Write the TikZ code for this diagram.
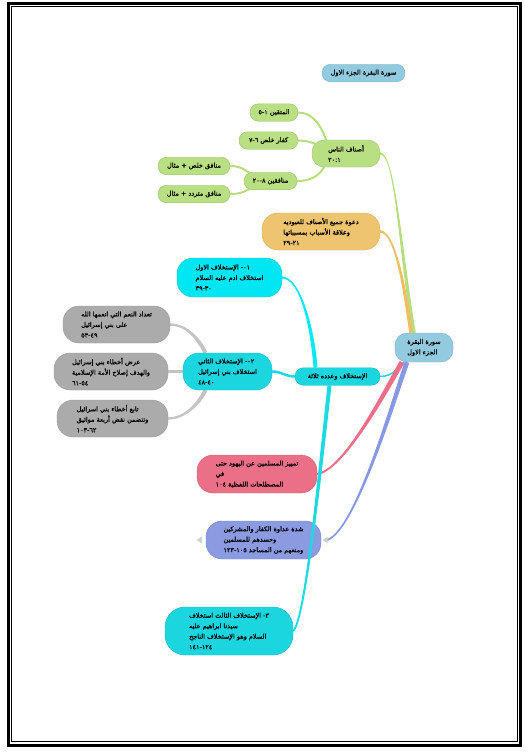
\documentclass[tikz,border=0pt]{standalone}
\usepackage{fontspec}
\newfontfamily\arabicfont[Script=Arabic,FakeBold=1]{DejaVu Sans}
\usetikzlibrary{calc}
\TeXXeTstate=1
\definecolor{lblue}{HTML}{92CBDF}\definecolor{lblueD}{HTML}{7FB0C2}
\definecolor{grn}{HTML}{B9DF83}\definecolor{grnD}{HTML}{9EBF74}\definecolor{grnL}{HTML}{B7DE7E}
\definecolor{org}{HTML}{EFC46E}\definecolor{orgD}{HTML}{D9AF60}\definecolor{orgL}{HTML}{F0BD62}
\definecolor{cyA}{HTML}{00E6F2}\definecolor{cyAD}{HTML}{10C5D0}\definecolor{cyAL}{HTML}{00EAF5}
\definecolor{cyB}{HTML}{1CD6DF}\definecolor{cyBD}{HTML}{18B9C2}\definecolor{cyBL}{HTML}{1CD9E2}
\definecolor{gry}{HTML}{ABABAB}\definecolor{gryD}{HTML}{9A9A9A}\definecolor{gryL}{HTML}{C4C4C4}
\definecolor{pnk}{HTML}{EB6F87}\definecolor{pnkD}{HTML}{D06078}\definecolor{pnkL}{HTML}{EC6F89}
\definecolor{blu}{HTML}{8A9BE1}\definecolor{bluD}{HTML}{7886C6}\definecolor{bluL}{HTML}{8799E2}
\definecolor{markc}{HTML}{CFCFCF}
\newcommand\dash{\hbox{-}}
\newcommand\RT[1]{\beginR#1\endR}
\newcommand\LT[1]{\beginL#1\endL}
% tapered branch: start, control 1, control 2, end, half width at start, half width at end, colour
\newcommand\taper[7]{%
  \path ($(#1)!#5!90:(#2)$) coordinate (ta) ($(#1)!#5!-90:(#2)$) coordinate (tb)
        ($(#4)!#6!-90:(#3)$) coordinate (tc) ($(#4)!#6!90:(#3)$) coordinate (td);
  \fill[#7] (ta) .. controls ($(#2)+(ta)-(#1)$) and ($(#3)+(tc)-(#4)$) .. (tc)
     -- (td) .. controls ($(#3)+(td)-(#4)$) and ($(#2)+(tb)-(#1)$) .. (tb) -- cycle;}
\pgfdeclarelayer{bg}
\pgfsetlayers{bg,main}
\begin{document}
\begin{tikzpicture}[x=1pt,y=-1pt,
  box/.style={rectangle, line width=0.4pt, inner sep=0pt, text=black,
    font=\arabicfont\fontsize{6.5}{10.5}\selectfont},
  one/.style={box, align=center, minimum height=17.5, rounded corners=8.5},
  multi/.style={box, align=left},
  conn/.style={line width=#1, line cap=round},
]
\useasboundingbox (0,0) rectangle (525,753);
\draw[line width=2.7] (8.7,3.7) rectangle (520.3,745.2);
\draw[line width=0.9] (11.5,6.2) rectangle (517.2,741.8);

% nodes
\node[one, fill=lblue, draw=lblueD, minimum width=83] (title) at (363.5,73) {\RT{سورة البقرة الجزء الاول}};
\node[multi, fill=lblue, draw=lblueD, minimum width=58, minimum height=29, rounded corners=12] (C) at (424,347.5) {\RT{سورة البقرة}\\\RT{الجزء الاول}};
\node[multi, fill=grn, draw=grnD, minimum width=68, minimum height=27, rounded corners=12] (A) at (346,153.5) {\RT{أصناف الناس}\\\LT{٢٠\hbox{:}١}};
\node[one, fill=grn, draw=grnD, minimum width=48] (m1) at (274,112.5) {\RT{المتقين \LT{٥\dash١}}};
\node[one, fill=grn, draw=grnD, minimum width=59] (m2) at (268.5,140.5) {\RT{كفار خلص \LT{٧\dash٦}}};
\node[one, fill=grn, draw=grnD, minimum width=53] (m3) at (270.5,181) {\RT{منافقين \LT{٢٠\dash٨}}};
\node[one, fill=grn, draw=grnD, minimum width=72] (m4) at (194,166) {\RT{منافق خلص + مثال}};
\node[one, fill=grn, draw=grnD, minimum width=72] (m5) at (194,194) {\RT{منافق متردد + مثال}};
\node[multi, fill=org, draw=orgD, minimum width=118, minimum height=37, rounded corners=16] (O) at (321,231.5) {\RT{دعوة جميع الأصناف للعبوديه}\\\RT{وعلاقة الأسباب بمسبباتها}\\\LT{٢٩\dash٢١}};
\node[multi, fill=cyA, draw=cyAD, minimum width=105, minimum height=39, rounded corners=16] (K1) at (229.5,277.5) {\RT{\LT{٠١}\dash{} الإستخلاف الاول}\\\RT{استخلاف ادم عليه السلام}\\\LT{٣٩\dash٣٠}};
\node[multi, fill=cyB, draw=cyBD, minimum width=89, minimum height=37, rounded corners=16] (K2) at (227.5,371.5) {\RT{\LT{٠٢}\dash{} الإستخلاف الثاني}\\\RT{استخلاف بني إسرائيل}\\\LT{٤٨\dash٤٠}};
\node[multi, fill=gry, draw=gryD, minimum width=107, minimum height=37, rounded corners=16] (G1) at (116.5,324.5) {\RT{تعداد النعم التي انعمها الله}\\\RT{على بني إسرائيل}\\\LT{٥٣\dash٤٩}};
\node[multi, fill=gry, draw=gryD, minimum width=114, minimum height=37, rounded corners=16] (G2) at (111,371.5) {\RT{عرض أخطاء بني إسرائيل}\\\RT{والهدف إصلاح الأمة الإسلامية}\\\LT{٦١\dash٥٤}};
\node[multi, fill=gry, draw=gryD, minimum width=111, minimum height=37, rounded corners=16] (G3) at (112.5,418.5) {\RT{تابع أخطاء بني اسرائيل}\\\RT{وتتضمن نقض أربعة مواثيق}\\\LT{١٠٣\dash٦٢}};
\node[one, fill=cyB, draw=cyBD, minimum width=85] (S) at (337.5,376.5) {\RT{الإستخلاف وعدده ثلاثة}};
\node[multi, fill=pnk, draw=pnkD, minimum width=120, minimum height=38, rounded corners=16] (P) at (257,474) {\RT{تمييز المسلمين عن اليهود حتى}\\\RT{في}\\\RT{المصطلحات اللفظية ١٠٤}};
\node[multi, fill=blu, draw=bluD, minimum width=115, minimum height=38, rounded corners=16] (B) at (263.5,540) {\RT{شدة عداوة الكفار والمشركين}\\\RT{وحسدهم للمسلمين}\\\RT{ومنعهم من المساجد \LT{١٢٣\dash١٠٥}}};
\node[multi, fill=cyB, draw=cyBD, minimum width=128, minimum height=48, rounded corners=20] (K3) at (229,631) {\RT{٣\dash{} الإستخلاف الثالث استخلاف}\\\RT{سيدنا ابراهيم عليه}\\\RT{السلام وهو الإستخلاف الناجح}\\\LT{١٤١\dash١٢٤}};

% collapse markers of the blue node
\fill[markc] ($(B.west)+(-9,0)$) -- ++(5,-3.5) -- ++(0,7) -- cycle;
\fill[markc] ($(B.east)+(1.5,0)$) -- ++(5,-3.5) -- ++(0,7) -- cycle;

% branch end and control points
\path (A.east) coordinate (sG) ++(15,0) coordinate (aG);
\path ($(C.north)+(-10,0)$) coordinate (eG) ++(-14,-83) coordinate (bG);
\path (O.east) coordinate (sO) ++(13,0) coordinate (aO);
\path ($(C.north)+(-13,0)$) coordinate (eO) ++(-8,-58) coordinate (bO);
\path ($(C.south)+(-22,0)$) coordinate (sP) ++(-12,20) coordinate (aP);
\path (P.east) coordinate (eP) ++(28,-4) coordinate (bP);
\path ($(C.south)+(-17,0)$) coordinate (sB) ++(-12,33) coordinate (aB);
\path ($(B.east)+(6,0)$) coordinate (eB) ++(29,-10) coordinate (bB);
\path ($(S.north)+(-22,0)$) coordinate (sK1) ++(-3,-40) coordinate (aK1);
\path (K1.east) coordinate (eK1) ++(18,0) coordinate (bK1);
\path ($(S.south)+(-8,0)$) coordinate (sK3) ++(-9.5,85) coordinate (aK3);
\path (K3.east) coordinate (eK3) ++(12,-11) coordinate (bK3);
\path ($(K2.north)+(-22,0)$) coordinate (sG1) ++(-8,-16) coordinate (aG1);
\path (G1.east) coordinate (eG1) ++(15,0) coordinate (bG1);
\path ($(K2.south)+(-22,0)$) coordinate (sG3) ++(-8,16) coordinate (aG3);
\path (G3.east) coordinate (eG3) ++(15,0) coordinate (bG3);

% connectors behind the nodes
\begin{pgfonlayer}{bg}
\taper{sG}{aG}{bG}{eG}{1.1pt}{1.8pt}{grnL}
\taper{sO}{aO}{bO}{eO}{1.2pt}{1.8pt}{orgL}
\draw[conn=1.5, cyBL] (S.east) .. controls +(12,0) and +(-6,6) .. ($(C.south)+(-20,0)$);
\taper{sP}{aP}{bP}{eP}{2.6pt}{1.0pt}{pnkL}
\taper{sB}{aB}{bB}{eB}{2.4pt}{0.9pt}{bluL}
\taper{sK1}{aK1}{bK1}{eK1}{2.0pt}{1.0pt}{cyAL}
\draw[conn=2.5, cyBL] (S.west) .. controls +(-10,0) and +(10,0) .. (K2.east);
\taper{sG1}{aG1}{bG1}{eG1}{2pt}{1.2pt}{gryL}
\draw[conn=2.8, gryL] (K2.west) -- (G2.east);
\taper{sG3}{aG3}{bG3}{eG3}{2pt}{1.2pt}{gryL}
\draw[conn=2.0, grnL] ($(A.north)+(-20,0)$) .. controls +(-5,-15) and +(14,0) .. (m1.east);
\draw[conn=2.0, grnL] ($(A.west)+(3,-10)$) .. controls +(-6,-2) and +(6,0) .. (m2.east);
\draw[conn=2.0, grnL] ($(A.south)+(-22,0)$) .. controls +(-6,10) and +(12,0) .. (m3.east);
\draw[conn=2.0, grnL] ($(m3.west)+(7,-7)$) .. controls +(-8,-6) and +(8,0) .. (m4.east);
\draw[conn=2.0, grnL] ($(m3.west)+(7,7)$) .. controls +(-8,5) and +(8,0) .. (m5.east);
\end{pgfonlayer}
% the third branch runs over the pink and blue nodes
\taper{sK3}{aK3}{bK3}{eK3}{2.0pt}{1.0pt}{cyBL}
\end{tikzpicture}
\end{document}
